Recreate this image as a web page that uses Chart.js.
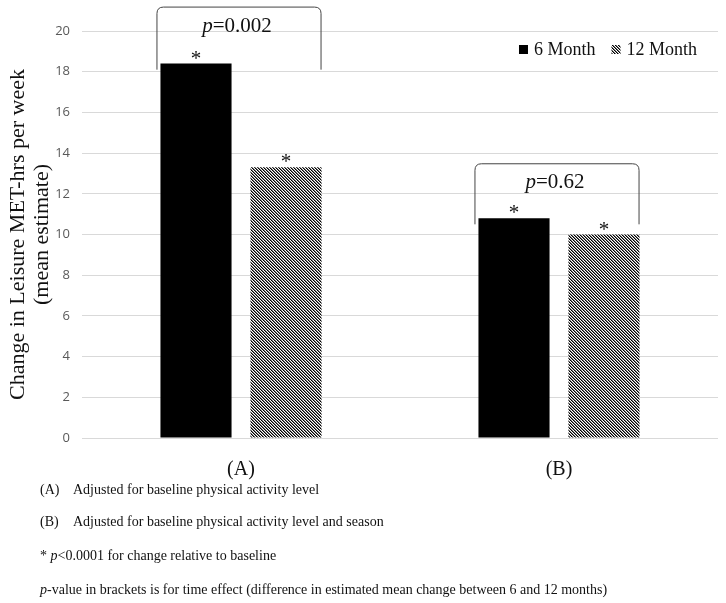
<!DOCTYPE html>
<html>
<head>
<meta charset="utf-8">
<script src="https://cdn.jsdelivr.net/npm/chart.js@4/dist/chart.umd.min.js"></script>
<style>
  html, body { margin: 0; padding: 0; background: #fff; }
  #wrap { position: relative; width: 726px; height: 603px; }
  #wrap canvas { position: absolute; left: 0; top: 0; }
  .note { position: absolute; left: 40px; font-family: "Liberation Serif", "Times New Roman", serif; font-size: 14px; color: #111; white-space: nowrap; line-height: 16px; }
  .note .lab { display: inline-block; width: 33px; }
</style>
</head>
<body>
<div id="wrap">
  <canvas id="c" width="726" height="603"></canvas>
  <div class="note" style="top:482px"><span class="lab">(A)</span>Adjusted for baseline physical activity level</div>
  <div class="note" style="top:514px"><span class="lab">(B)</span>Adjusted for baseline physical activity level and season</div>
  <div class="note" style="top:548px">* <i>p</i>&lt;0.0001 for change relative to baseline</div>
  <div class="note" style="top:582px"><i>p</i>-value in brackets is for time effect (difference in estimated mean change between 6 and 12 months)</div>
</div>
<script>
// ---- data ----
const categories = ["(A)", "(B)"];
const seriesNames = ["6 Month", "12 Month"];
const month6 = [18.4, 10.8];
const month12 = [13.3, 10.0];
const timeEffectP = ["0.002", "0.62"];
const bracketTop = [21.2, 13.5];
const bracketBottom = [18.1, 10.5];
const yTicks = [0, 2, 4, 6, 8, 10, 12, 14, 16, 18, 20];
const yTitle = ["Change in Leisure MET-hrs per week", "(mean estimate)"];

// hatch pattern (diagonal stripes running down to the right)
function makeHatch() {
  const t = document.createElement('canvas');
  t.width = 3; t.height = 3;
  const g = t.getContext('2d');
  g.fillStyle = '#fff'; g.fillRect(0, 0, 3, 3);
  for (let i = 0; i < 3; i++) {
    g.fillStyle = '#000';
    g.fillRect(i, i, 1, 1);
    g.fillStyle = '#777';
    g.fillRect((i + 1) % 3, i, 1, 1);
  }
  return document.getElementById('c').getContext('2d').createPattern(t, 'repeat');
}
const hatch = makeHatch();
const serif = '"Liberation Serif", "Times New Roman", serif';

const annotPlugin = {
  id: 'annot',
  afterDatasetsDraw(chart) {
    const ctx = chart.ctx;
    const y = chart.scales.y;
    const m0 = chart.getDatasetMeta(0).data;
    const m1 = chart.getDatasetMeta(1).data;
    ctx.save();
    // asterisks
    ctx.fillStyle = '#111';
    ctx.font = '21px ' + serif;
    ctx.textAlign = 'center';
    ctx.textBaseline = 'alphabetic';
    [m0, m1].forEach(meta => meta.forEach(bar => {
      ctx.fillText('*', bar.x, bar.y + 1);
    }));
    // brackets
    categories.forEach((c, i) => {
      const b0 = m0[i], b1 = m1[i];
      const left = b0.x - b0.width / 2 - 4;
      const right = b1.x + b1.width / 2;
      const top = y.getPixelForValue(bracketTop[i]);
      const bot = y.getPixelForValue(bracketBottom[i]);
      const r = 7;
      ctx.strokeStyle = '#444';
      ctx.lineWidth = 1;
      ctx.beginPath();
      ctx.moveTo(left + 0.5, bot);
      ctx.lineTo(left + 0.5, top + r);
      ctx.quadraticCurveTo(left + 0.5, top + 0.5, left + r, top + 0.5);
      ctx.lineTo(right - r, top + 0.5);
      ctx.quadraticCurveTo(right - 0.5, top + 0.5, right - 0.5, top + r);
      ctx.lineTo(right - 0.5, bot);
      ctx.stroke();
      // p text
      const cx = (left + right) / 2 - 2;
      const baseY = top + 25;
      ctx.fillStyle = '#111';
      ctx.font = 'italic 21px ' + serif;
      const pW = ctx.measureText('p').width;
      ctx.font = '21px ' + serif;
      const rest = '=' + timeEffectP[i];
      const rW = ctx.measureText(rest).width;
      const sx = cx - (pW + rW) / 2;
      ctx.textAlign = 'left';
      ctx.font = 'italic 21px ' + serif;
      ctx.fillText('p', sx, baseY);
      ctx.font = '21px ' + serif;
      ctx.fillText(rest, sx + pW, baseY);
      ctx.textAlign = 'center';
    });
    // legend
    ctx.font = '18px ' + serif;
    ctx.textAlign = 'left';
    ctx.textBaseline = 'middle';
    const ly = 50;
    let x = 697;
    const items = [];
    for (let i = seriesNames.length - 1; i >= 0; i--) {
      const w = ctx.measureText(seriesNames[i]).width;
      x -= w;
      items.push({ i, tx: x });
      x -= 6 + 9;
      items[items.length - 1].bx = x;
      x -= 16;
    }
    items.forEach(it => {
      const ds = chart.data.datasets[it.i];
      ctx.fillStyle = ds.backgroundColor;
      ctx.fillRect(it.bx, ly - 5, 9, 9);
      ctx.fillStyle = '#111';
      ctx.fillText(seriesNames[it.i], it.tx, ly);
    });
    ctx.restore();
  }
};

new Chart(document.getElementById('c'), {
  type: 'bar',
  data: {
    labels: categories,
    datasets: [
      { label: seriesNames[0], data: month6, backgroundColor: '#000', borderWidth: 0,
        categoryPercentage: 0.566, barPercentage: 0.79 },
      { label: seriesNames[1], data: month12, backgroundColor: hatch, borderWidth: 0,
        categoryPercentage: 0.566, barPercentage: 0.79 }
    ]
  },
  options: {
    responsive: false,
    animation: false,
    layout: { padding: { left: 2, right: 8, top: 31, bottom: 101 } },
    plugins: { legend: { display: false }, tooltip: { enabled: false } },
    scales: {
      x: {
        grid: { display: false, drawTicks: false },
        border: { display: false },
        ticks: { padding: 20, color: '#111', font: { family: serif, size: 20 } }
      },
      y: {
        min: 0, max: 20,
        afterBuildTicks(axis) { axis.ticks = yTicks.map(v => ({ value: v })); },
        afterFit(axis) { axis.width = 80; },
        grid: { color: '#d9d9d9', lineWidth: 1, drawTicks: false },
        border: { display: false },
        ticks: { padding: 12, color: '#595959', font: { family: '"Open Sans", sans-serif', size: 13 } },
        title: { display: true, text: yTitle, color: '#111', font: { family: serif, size: 22, lineHeight: 1.1 }, padding: { top: 4, bottom: 4 } }
      }
    }
  },
  plugins: [annotPlugin]
});
</script>
</body>
</html>
